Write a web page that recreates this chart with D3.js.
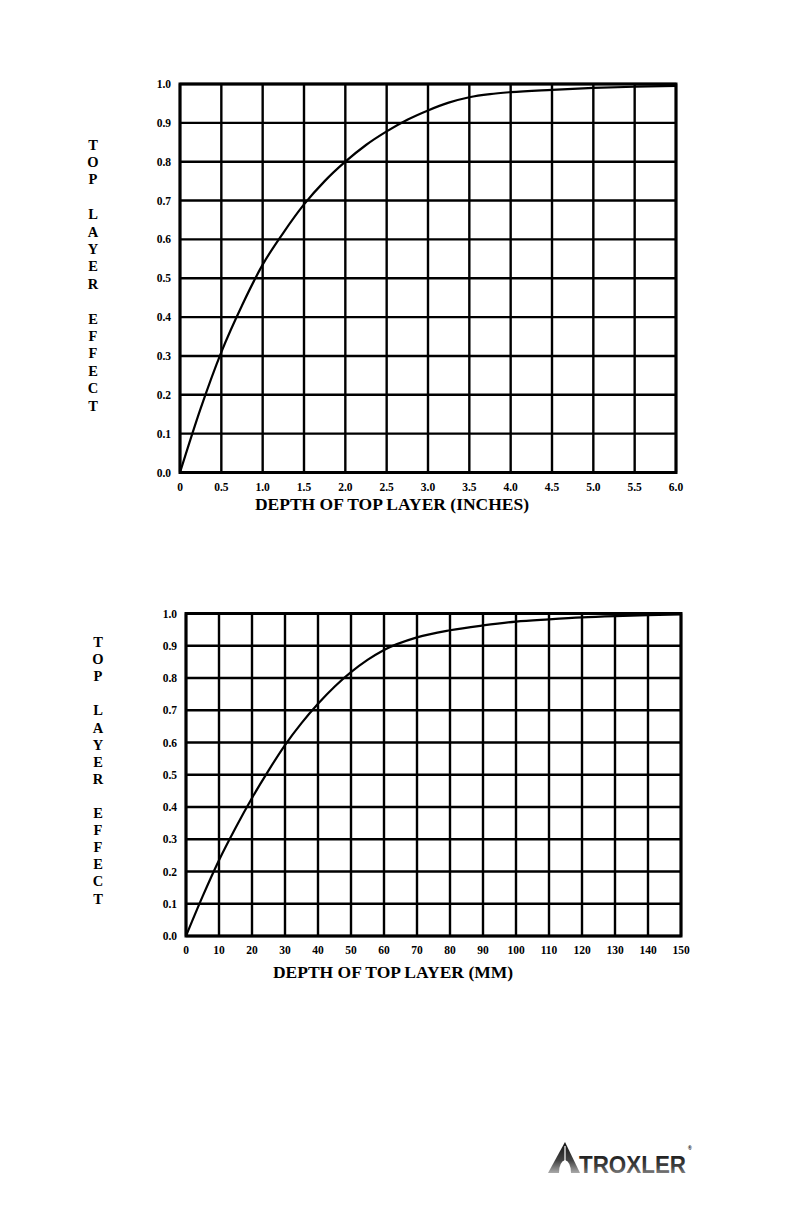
<!DOCTYPE html>
<html><head><meta charset="utf-8">
<script src="https://cdn.jsdelivr.net/npm/d3@7"></script>
<style>
html,body{margin:0;padding:0;background:#fff;}
svg{display:block;}
text{font-family:"Liberation Serif","Times New Roman",serif;font-weight:bold;fill:#000;}
</style></head>
<body>
<script>
// ---- data ----
const inchTicks = [0,0.5,1.0,1.5,2.0,2.5,3.0,3.5,4.0,4.5,5.0,5.5,6.0];
const inchTickLabels = ["0","0.5","1.0","1.5","2.0","2.5","3.0","3.5","4.0","4.5","5.0","5.5","6.0"];
const inchDepth  = [0, 0.25, 0.5, 0.75, 1.0, 1.25, 1.5, 1.75, 2.0, 2.25, 2.5, 2.75, 3.0, 3.25, 3.5, 3.75, 4.0, 4.5, 5.0, 5.5, 6.0];
const inchEffect = [0, 0.165, 0.31, 0.43, 0.535, 0.617, 0.69, 0.75, 0.80, 0.843, 0.878, 0.908, 0.932, 0.952, 0.966, 0.974, 0.979, 0.985, 0.99, 0.993, 0.995];

const mmTicks = [0,10,20,30,40,50,60,70,80,90,100,110,120,130,140,150];
const mmTickLabels = ["0","10","20","30","40","50","60","70","80","90","100","110","120","130","140","150"];
const mmDepth  = [0, 5, 10, 15, 20, 25, 30, 35, 40, 45, 50, 55, 60, 70, 80, 90, 100, 110, 120, 130, 140, 150];
const mmEffect = [0, 0.122, 0.235, 0.335, 0.428, 0.513, 0.592, 0.66, 0.72, 0.773, 0.818, 0.856, 0.887, 0.926, 0.948, 0.963, 0.975, 0.982, 0.988, 0.992, 0.995, 0.997];

const effectTicks = [0,0.1,0.2,0.3,0.4,0.5,0.6,0.7,0.8,0.9,1.0];
const effectTickLabels = ["0.0","0.1","0.2","0.3","0.4","0.5","0.6","0.7","0.8","0.9","1.0"];
const yLabelLetters = ["T","O","P","","L","A","Y","E","R","","E","F","F","E","C","T"];

const W = 792, H = 1224;
const svg = d3.select("body").append("svg").attr("width", W).attr("height", H);

function drawChart(cfg) {
  const x = d3.scaleLinear().domain(cfg.xDomain).range([cfg.left, cfg.right]);
  const y = d3.scaleLinear().domain([0, 1]).range([cfg.bottom, cfg.top]);
  const g = svg.append("g");

  g.selectAll(".vg").data(cfg.xTicks).enter().append("line")
    .attr("x1", d => x(d)).attr("x2", d => x(d))
    .attr("y1", cfg.top).attr("y2", cfg.bottom)
    .attr("stroke", "#000").attr("stroke-width", 2.4);
  g.selectAll(".hg").data(effectTicks).enter().append("line")
    .attr("x1", cfg.left).attr("x2", cfg.right)
    .attr("y1", d => y(d)).attr("y2", d => y(d))
    .attr("stroke", "#000").attr("stroke-width", 2.4);
  g.append("rect").attr("x", cfg.left).attr("y", cfg.top)
    .attr("width", cfg.right - cfg.left).attr("height", cfg.bottom - cfg.top)
    .attr("fill", "none").attr("stroke", "#000").attr("stroke-width", 3);

  g.selectAll(".yl").data(effectTicks).enter().append("text")
    .attr("x", cfg.left - 9).attr("y", d => y(d) + 4)
    .attr("text-anchor", "end").attr("font-size", 11.5)
    .text((d, i) => effectTickLabels[i]);
  g.selectAll(".xl").data(cfg.xTicks).enter().append("text")
    .attr("x", d => x(d)).attr("y", cfg.bottom + 18)
    .attr("text-anchor", "middle").attr("font-size", 11.5)
    .text((d, i) => cfg.xTickLabels[i]);

  const pts = cfg.xs.map((d, i) => [d, cfg.ys[i]]);
  g.append("path").datum(pts)
    .attr("d", d3.line().x(d => x(d[0])).y(d => y(d[1])).curve(d3.curveMonotoneX))
    .attr("fill", "none").attr("stroke", "#000").attr("stroke-width", 2.2);

  g.append("text").attr("x", cfg.titleX).attr("y", cfg.titleY)
    .attr("text-anchor", "middle").attr("font-size", 17.5)
    .text(cfg.title);

  g.selectAll(".ylet").data(yLabelLetters).enter().append("text")
    .attr("x", cfg.yLabX).attr("y", (d, i) => cfg.yLabY0 + i * cfg.yLabStep + 5.5)
    .attr("text-anchor", "middle").attr("font-size", 14.5)
    .text(d => d);
}

drawChart({
  xDomain: [0, 6], xTicks: inchTicks, xTickLabels: inchTickLabels,
  xs: inchDepth, ys: inchEffect,
  left: 180, right: 676, top: 84, bottom: 472.5,
  title: "DEPTH OF TOP LAYER (INCHES)", titleX: 392, titleY: 510,
  yLabX: 93, yLabY0: 144, yLabStep: 17.4
});

drawChart({
  xDomain: [0, 150], xTicks: mmTicks, xTickLabels: mmTickLabels,
  xs: mmDepth, ys: mmEffect,
  left: 186, right: 681, top: 613.5, bottom: 936,
  title: "DEPTH OF TOP LAYER (MM)", titleX: 393, titleY: 978,
  yLabX: 98, yLabY0: 641.5, yLabStep: 17.1
});

// ---- logo ----
const defs = svg.append("defs");
const grad = defs.append("linearGradient").attr("id", "lg").attr("x1", 0).attr("y1", 0).attr("x2", 0).attr("y2", 1);
grad.append("stop").attr("offset", "0%").attr("stop-color", "#111");
grad.append("stop").attr("offset", "60%").attr("stop-color", "#444");
grad.append("stop").attr("offset", "100%").attr("stop-color", "#aaa");
const logo = svg.append("g");
logo.append("path").attr("d", "M565,1142 L548,1173 L580,1173 Z").attr("fill", "url(#lg)");
logo.append("path").attr("d", "M559,1173 Q559,1162 565,1160 Q571,1162 571,1173 Z").attr("fill", "#fff");
logo.append("line").attr("x1", 565).attr("y1", 1146).attr("x2", 565).attr("y2", 1162).attr("stroke", "#fff").attr("stroke-width", 1.2);
logo.append("text").attr("x", 579).attr("y", 1173)
  .attr("font-size", 24).attr("textLength", 107).attr("lengthAdjust", "spacingAndGlyphs")
  .style("font-family", "'Liberation Sans',Arial,sans-serif").style("fill", "url(#lg)")
  .text("TROXLER");
logo.append("text").attr("x", 688).attr("y", 1150).attr("font-size", 5)
  .style("font-family", "'Liberation Sans',Arial,sans-serif").text("®");
</script>
</body></html>
